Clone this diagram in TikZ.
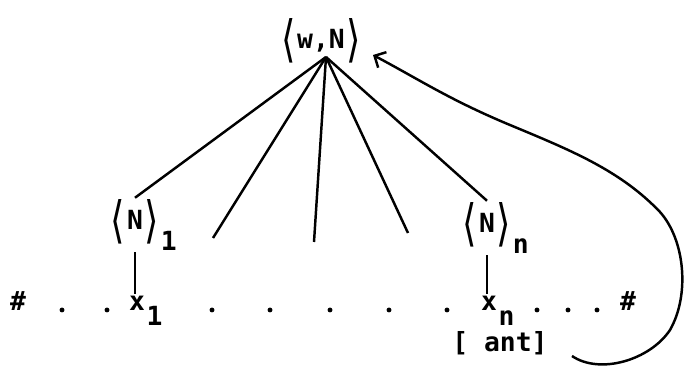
\documentclass[tikz,border=0pt]{standalone}
\usepackage{graphicx}
\usepackage{fontspec}
\setmonofont{DejaVu Sans Mono}
\newfontfamily\brkfont{DejaVu Sans}
\usepackage{tikz}
\usetikzlibrary{arrows.meta}
\tikzset{
  lbl/.style={font=\fontsize{15}{17}\selectfont\ttfamily\bfseries, inner sep=1pt},
  branch/.style={line width=1.4pt},
  dot/.style={circle, fill, inner sep=0pt, minimum size=2.8pt},
  backarc/.style={line width=1.4pt, -{Straight Barb[length=5pt,width=10pt,line width=1.4pt]}}
}
\newcommand{\brk}[1]{\raisebox{-0.3em}{\brkfont\mdseries\scalebox{1.4}[1.9]{#1}}}
\newcommand{\ang}[1]{\brk{⟨}\kern1pt#1\kern1pt\brk{⟩}}
\newcommand{\lowsub}[2][-1.4ex]{\rlap{\raisebox{#1}{\kern1pt#2}}}

\begin{document}
\begin{tikzpicture}[x=0.02cm, y=-0.02cm]
\useasboundingbox (0,0) rectangle (684,367);
% the mother node
\node[lbl] (root) at (321,41) {\ang{w,N}};
\coordinate (apex) at (326,57);
% the daughters
\node[lbl] (n1) at (135,225) {\ang{N}\lowsub{1}};
\node[lbl] (nn) at (487,228) {\ang{N}\lowsub{n}};
\coordinate (e2) at (213,238);
\coordinate (e3) at (314,242);
\coordinate (e4) at (408,233);
\foreach \e in {n1.north, e2, e3, e4, nn.north}
  \draw[branch] (apex) -- (\e);
% the string
\node[lbl, anchor=base] (hl) at (18,311) {\#};
\node[lbl, anchor=base] (hr) at (628,311) {\#};
\node[lbl, anchor=base] (x1) at (137,311) {x\lowsub[-1ex]{1}};
\node[lbl, anchor=base] (xn) at (489,311) {x\lowsub[-1ex]{n}};
\foreach \p [count=\i] in {62,107,212,270,330,389,447,537,568,597}
  \node[dot] (d\i) at (\p,310) {};
\draw[branch] (n1.south) -- (n1.south |- x1.north);
\draw[branch] (nn.south) -- (nn.south |- xn.north);
\node[lbl] (ant) at (500,343) {[ ant]};
% the link back up
\coordinate (tail) at (572,356);
\coordinate (tip) at (373,55);
\draw[backarc] (tail) .. controls (600,375) and (650,360) .. (670,330)
  .. controls (690,295) and (685,240) .. (660,212)
  .. controls (620,170) and (570,150) .. (510,125)
  .. controls (450,100) and (420,80) .. (tip);
\end{tikzpicture}
\end{document}
